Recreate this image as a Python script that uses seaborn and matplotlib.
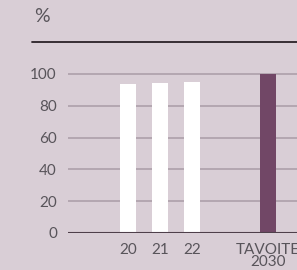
import matplotlib
matplotlib.use("Agg")
import matplotlib.pyplot as plt
from matplotlib.lines import Line2D
import seaborn as sns
import pandas as pd

# values
labels = ["20", "21", "22", "TAVOITE\n2030"]
positions = [0, 1, 2, 4.375]
values = [94, 94.3, 95, 100]
colors = ["#ffffff", "#ffffff", "#ffffff", "#714766"]

bg = "#d9ced6"
txt = "#58545a"

sns.set_theme(style="white")
plt.rcParams["font.family"] = ["Lato", "DejaVu Sans"]

df = pd.DataFrame({"pos": positions, "val": values, "lab": labels})

fig = plt.figure(figsize=(2.97, 2.70), dpi=100, facecolor=bg)
ax = fig.add_axes([68 / 297, 37 / 270, 1 - 68 / 297, (233 - 74) / 270 * 101 / 100])
ax.set_facecolor(bg)

sns.barplot(data=df, x="pos", y="val", hue="lab", palette=colors, native_scale=True,
            width=0.5, legend=False, ax=ax, saturation=1, linewidth=0, zorder=3)

ax.set_xlim(-1.875, 5.28)
ax.set_ylim(0, 101)
ax.set_yticks([0, 20, 40, 60, 80, 100])
ax.set_xticks(positions)
ax.set_xticklabels(labels, linespacing=0.8)
ax.set_xlabel("")
ax.set_ylabel("")
ax.yaxis.grid(True, color="#a99ca6", linewidth=1.1, zorder=0)
ax.tick_params(axis="both", length=0, labelsize=11, labelcolor=txt)
ax.tick_params(axis="y", pad=8)
ax.tick_params(axis="x", pad=7)
for s in ax.spines.values():
    s.set_visible(False)
ax.axhline(0, color="#4e3f4a", linewidth=1.5, zorder=4)

fig.add_artist(Line2D([32 / 297, 1], [1 - 42 / 270, 1 - 42 / 270], color="#2b2228", linewidth=1.3))
fig.text(34 / 297, 1 - 16 / 270, "%", fontsize=14, color=txt, va="center", ha="left")

fig.savefig("out.png", dpi=100, facecolor=bg)
